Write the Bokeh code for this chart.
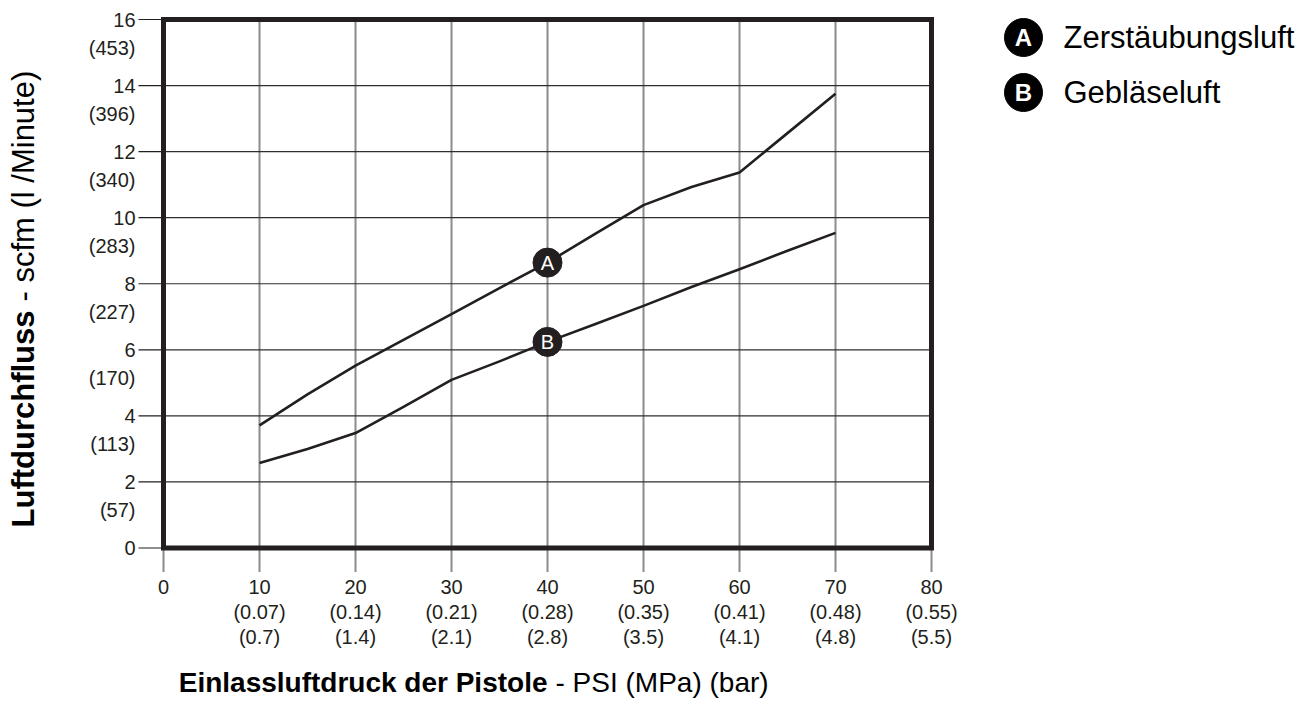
from bokeh.plotting import figure
from bokeh.models import ColumnDataSource, Range1d
from bokeh.embed import file_html
from bokeh.resources import INLINE
from bokeh.core.properties import value
import math

# ---------------- data ----------------
psi = [10, 15, 20, 25, 30, 35, 40, 45, 50, 55, 60, 65, 70]
flow_a = [3.71, 4.65, 5.52, 6.30, 7.08, 7.87, 8.64, 9.52, 10.38, 10.93, 11.37, 12.56, 13.75]
flow_b = [2.57, 3.00, 3.48, 4.27, 5.09, 5.65, 6.24, 6.78, 7.33, 7.90, 8.44, 9.00, 9.54]

x_ticks = [0, 10, 20, 30, 40, 50, 60, 70, 80]
x_mpa = ["", "(0.07)", "(0.14)", "(0.21)", "(0.28)", "(0.35)", "(0.41)", "(0.48)", "(0.55)"]
x_bar = ["", "(0.7)", "(1.4)", "(2.1)", "(2.8)", "(3.5)", "(4.1)", "(4.8)", "(5.5)"]

y_ticks = [0, 2, 4, 6, 8, 10, 12, 14, 16]
y_lpm = ["", "(57)", "(113)", "(170)", "(227)", "(283)", "(340)", "(396)", "(453)"]

series_keys = ["A", "B"]
series_names = ["Zerstäubungsluft", "Gebläseluft"]
marker_psi = 40

x_title_bold = "Einlassluftdruck der Pistole"
x_title_rest = "- PSI (MPa) (bar)"
y_title_bold = "Luftdurchfluss"
y_title_rest = "- scfm (l /Minute)"

# ---------------- layout (picture pixels) ----------------
INK = "#231f20"
FONT = "Liberation Sans"
W, H, M = 1305, 709, 0
PLOT_L, PLOT_R, PLOT_T, PLOT_B = 163, 931, 19, 547.5
XMIN, XMAX, YMIN, YMAX = x_ticks[0], x_ticks[-1], y_ticks[0], y_ticks[-1]
kx = (PLOT_R - PLOT_L) / (XMAX - XMIN)
ky = (PLOT_B - PLOT_T) / (YMAX - YMIN)
x_start = XMIN - (PLOT_L - M) / kx
y_end = YMAX + (PLOT_T - M) / ky


def px(page_x):
    return x_start + (page_x - M) / kx


def py(page_y):
    return y_end - (page_y - M) / ky


p = figure(width=W, height=H, x_range=Range1d(x_start, x_start + W / kx),
           y_range=Range1d(y_end - H / ky, y_end),
           output_backend="svg", toolbar_location=None,
           x_axis_type=None, y_axis_type=None, min_border=0)
p.grid.visible = False
p.outline_line_color = None
p.background_fill_color = "white"
p.border_fill_color = "white"

# grid
inner_x = x_ticks[1:-1]
inner_y = y_ticks[1:-1]
p.segment(x0=inner_x, y0=[YMIN] * len(inner_x), x1=inner_x, y1=[YMAX] * len(inner_x),
          line_color="#8c8c8c", line_width=2)
p.segment(x0=[XMIN] * len(inner_y), y0=inner_y, x1=[XMAX] * len(inner_y), y1=inner_y,
          line_color="#2e2e2e", line_width=1.2)

# ticks
p.segment(x0=x_ticks, y0=[YMIN] * len(x_ticks), x1=x_ticks, y1=[py(571.5)] * len(x_ticks),
          line_color="#8c8c8c", line_width=2)
p.segment(x0=[px(138)] * len(y_ticks), y0=y_ticks, x1=[XMIN] * len(y_ticks), y1=y_ticks,
          line_color=INK, line_width=1.2)

# frame border
p.quad(left=[XMIN], right=[XMAX], bottom=[YMIN], top=[YMAX], fill_color=None,
       line_color=INK, line_width=5, line_join="miter")

# tick labels
tick_kw = dict(text_font=value(FONT), text_font_size="20px", text_color=INK)
p.text(x=x_ticks, y=[py(586.5)] * len(x_ticks), text=[str(t) for t in x_ticks],
       text_align="center", text_baseline="middle", **tick_kw)
p.text(x=x_ticks[1:], y=[py(611.5)] * (len(x_ticks) - 1), text=x_mpa[1:],
       text_align="center", text_baseline="middle", **tick_kw)
p.text(x=x_ticks[1:], y=[py(636.5)] * (len(x_ticks) - 1), text=x_bar[1:],
       text_align="center", text_baseline="middle", **tick_kw)
p.text(x=[px(135)] * len(y_ticks), y=y_ticks, text=[str(t) for t in y_ticks],
       text_align="right", text_baseline="middle", **tick_kw)
p.text(x=[px(135)] * (len(y_ticks) - 1), y=[t - 28 / ky for t in y_ticks[1:]], text=y_lpm[1:],
       text_align="right", text_baseline="middle", **tick_kw)

# curves
for ys_ in (flow_a, flow_b):
    p.line(psi, ys_, line_color=INK, line_width=2.6, line_join="round")

idx = psi.index(marker_psi)
mk = ColumnDataSource(dict(x=[marker_psi, marker_psi], y=[flow_a[idx], flow_b[idx]], t=series_keys))
p.scatter("x", "y", source=mk, size=29, fill_color=INK, line_color=INK)
p.text("x", "y", text="t", source=mk, text_align="center", text_baseline="middle",
       text_font=value(FONT), text_font_size="20px", text_color="white")

# axis titles (bold part + normal part)
p.text(x=[px(547)], y=[py(681.5)], text=[x_title_bold], text_align="right", text_baseline="middle",
       text_font=value(FONT), text_font_style="bold", text_font_size="28px", text_color="black")
p.text(x=[px(555)], y=[py(681.5)], text=[x_title_rest], text_align="left", text_baseline="middle",
       text_font=value(FONT), text_font_size="28px", text_color="black")
p.text(x=[px(22.5)], y=[py(310)], text=[y_title_bold], angle=math.pi / 2, text_align="right",
       text_baseline="middle", text_font=value(FONT), text_font_style="bold",
       text_font_size="31px", text_color="black")
p.text(x=[px(22.5)], y=[py(301)], text=[y_title_rest], angle=math.pi / 2, text_align="left",
       text_baseline="middle", text_font=value(FONT), text_font_size="31px", text_color="black")

# legend
ls = ColumnDataSource(dict(cx=[px(1023)] * 2, cy=[py(37), py(92)], tx=[px(1063)] * 2,
                           k=series_keys, n=series_names))
p.scatter("cx", "cy", source=ls, size=38, fill_color="black", line_color="black")
p.text("cx", "cy", text="k", source=ls, text_align="center", text_baseline="middle",
       text_font=value(FONT), text_font_style="bold", text_font_size="24px", text_color="white")
p.text("tx", "cy", text="n", source=ls, text_align="left", text_baseline="middle",
       text_font=value(FONT), text_font_size="31px", text_color="black")

open("out.html", "w").write(file_html(p, INLINE))
